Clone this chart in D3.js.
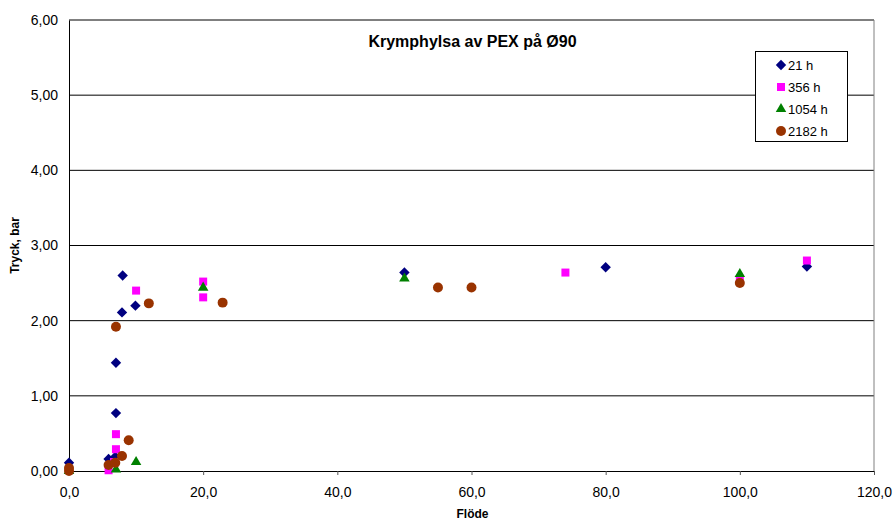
<!DOCTYPE html>
<html><head><meta charset="utf-8">
<script src="https://cdn.jsdelivr.net/npm/d3@7"></script>
<style>body{margin:0;background:#fff}svg{display:block;font-family:Arial,"Liberation Sans",sans-serif}</style>
</head><body><svg id="c" width="895" height="522"></svg>
<script>
const seriesNames = ["21 h","356 h","1054 h","2182 h"];
const seriesColors = ["#000080","#FF00FF","#008000","#993300"];
const seriesShapes = ["diamond","square","triangle","circle"];
const s21 = [[0,0.11],[5.9,0.16],[6.9,0.19],[7,0.77],[7,1.44],[7.9,2.11],[8,2.60],[9.9,2.20],[50,2.64],[80,2.71],[110,2.72]];
const s356 = [[0,0.02],[5.9,0.01],[6.7,0.12],[7,0.29],[7,0.49],[10,2.40],[20,2.31],[20,2.52],[74,2.64],[100,2.54],[110,2.80]];
const s1054 = [[0,0.0],[7,0.02],[10,0.12],[20,2.44],[50,2.56],[100,2.62]];
const s2182 = [[0,0.0],[0,0.04],[5.9,0.08],[6.9,0.11],[7.9,0.20],[8.9,0.41],[7,1.92],[11.9,2.23],[22.9,2.24],[55,2.44],[60,2.44],[100,2.50]];
const seriesData = [s21,s356,s1054,s2182];
const xTicks = [0,20,40,60,80,100,120];
const yTicks = [0,1,2,3,4,5,6];
const title = "Krymphylsa av PEX på Ø90";
const xTitle = "Flöde";
const yTitle = "Tryck, bar";

const svg = d3.select("#c");
const L=69, R=874, T=20, B=471;
const x = d3.scaleLinear().domain([0,120]).range([L,R]);
const y = d3.scaleLinear().domain([0,6]).range([B,T]);
const fmtY = v => d3.format(".2f")(v).replace(".",",");
const fmtX = v => d3.format(".1f")(v).replace(".",",");

svg.append("g").selectAll("line").data(yTicks.filter(d=>d>0)).join("line")
  .attr("x1",L).attr("x2",R).attr("y1",d=>y(d)).attr("y2",d=>y(d))
  .attr("stroke","#000").attr("stroke-width",1);
svg.append("line").attr("x1",R).attr("x2",R).attr("y1",T).attr("y2",B).attr("stroke","#808080");

const xAxis = svg.append("g").attr("transform",`translate(0,${B})`)
  .call(d3.axisBottom(x).tickValues(xTicks).tickFormat(fmtX).tickSize(4).tickPadding(12));
const yAxis = svg.append("g").attr("transform",`translate(${L},0)`)
  .call(d3.axisLeft(y).tickValues(yTicks).tickFormat(fmtY).tickSize(0).tickPadding(11));
[xAxis,yAxis].forEach(a=>{
  a.select(".domain").attr("stroke","#000");
  a.selectAll(".tick line").attr("stroke","#555");
  a.selectAll("text").attr("font-size",14).attr("fill","#000").attr("font-family","Arial, 'Liberation Sans', sans-serif");
});

svg.append("text").attr("x",(L+R)/2+1).attr("y",47).attr("text-anchor","middle")
  .attr("font-size",16).attr("font-weight","bold").text(title);
svg.append("text").attr("x",(L+R)/2+1).attr("y",518).attr("text-anchor","middle")
  .attr("font-size",12).attr("font-weight","bold").text(xTitle);
svg.append("text").attr("transform",`translate(19,${(T+B)/2}) rotate(-90)`).attr("text-anchor","middle")
  .attr("font-size",12).attr("font-weight","bold").text(yTitle);

const symSize = {square:64, triangle:48, circle:78};
function sym(shape){
  if(shape==="diamond"){ const r=5.2; const p=d3.path(); p.moveTo(0,-r); p.lineTo(r,0); p.lineTo(0,r); p.lineTo(-r,0); p.closePath(); return p.toString(); }
  const t = {square:d3.symbolSquare, triangle:d3.symbolTriangle, circle:d3.symbolCircle}[shape];
  return d3.symbol().type(t).size(symSize[shape])();
}

seriesData.forEach((data,i)=>{
  svg.append("g").selectAll("path").data(data).join("path")
    .attr("d",sym(seriesShapes[i]))
    .attr("transform",d=>`translate(${x(d[0])},${y(d[1])})`)
    .attr("fill",seriesColors[i]);
});

const lg = svg.append("g");
lg.append("rect").attr("x",755.5).attr("y",51.5).attr("width",92).attr("height",90)
  .attr("fill","#fff").attr("stroke","#000");
seriesNames.forEach((n,i)=>{
  const cy = 65 + i*22;
  lg.append("path").attr("d",sym(seriesShapes[i])).attr("transform",`translate(781,${cy})`).attr("fill",seriesColors[i]);
  lg.append("text").attr("x",788).attr("y",cy+5).attr("font-size",13).text(n);
});
</script></body></html>
